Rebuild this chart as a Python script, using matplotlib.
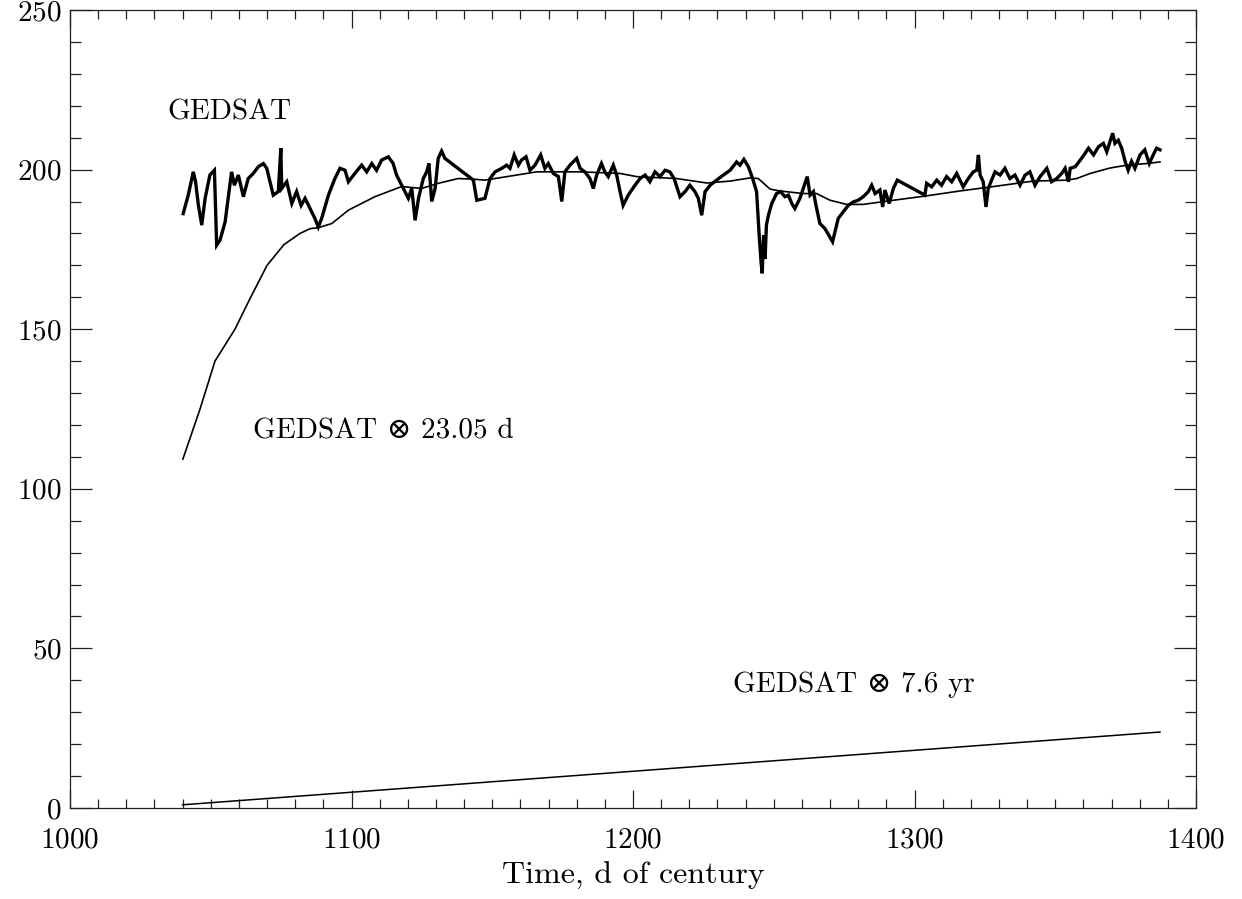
import numpy as np
import matplotlib
matplotlib.use("Agg")
import matplotlib.pyplot as plt
from matplotlib.ticker import MultipleLocator

plt.rcParams['font.family'] = ['cmr10', 'DejaVu Serif']
plt.rcParams['axes.formatter.use_mathtext'] = True

# GEDSAT daily series
t_obs = [1040.2, 1042.0, 1043.8, 1044.6, 1045.6, 1046.8, 1048.0, 1049.7, 1051.3, 1052.1,
         1053.3, 1055.1, 1056.2, 1057.4, 1058.4, 1059.8, 1061.6, 1063.3, 1065.1, 1066.9,
         1068.7, 1069.9, 1072.2, 1074.0, 1074.9, 1075.2, 1077.0, 1078.8, 1080.5, 1082.1,
         1083.5, 1085.3, 1087.0, 1088.2, 1089.4, 1091.8, 1094.1, 1095.9, 1097.7, 1098.9,
         1101.2, 1103.6, 1105.4, 1107.2, 1108.9, 1110.7, 1113.1, 1114.8, 1116.0, 1119.0,
         1120.2, 1121.4, 1122.6, 1123.8, 1125.5, 1126.7, 1127.5, 1128.5, 1129.7, 1130.8,
         1132.0, 1133.2, 1143.3, 1144.5, 1147.4, 1149.2, 1151.0, 1153.4, 1155.1, 1156.3,
         1157.8, 1159.3, 1160.4, 1162.0, 1163.4, 1165.2, 1167.2, 1168.7, 1169.9, 1171.7,
         1173.5, 1174.7, 1175.8, 1177.6, 1180.0, 1181.2, 1182.9, 1184.7, 1185.9, 1187.1,
         1188.8, 1190.0, 1191.2, 1193.0, 1194.2, 1195.4, 1196.5, 1198.3, 1200.7, 1202.5,
         1204.3, 1206.0, 1207.8, 1209.6, 1211.4, 1213.1, 1214.6, 1216.7, 1218.5, 1220.2,
         1222.0, 1223.2, 1224.4, 1225.6, 1227.4, 1229.7, 1232.1, 1234.5, 1236.8, 1238.0,
         1239.4, 1241.0, 1242.5, 1243.9, 1244.9, 1245.5, 1245.9, 1246.4, 1246.9, 1247.4,
         1248.1, 1249.3, 1251.0, 1252.4, 1254.0, 1255.2, 1256.4, 1257.5, 1259.3, 1260.5,
         1261.9, 1262.9, 1264.1, 1265.0, 1266.4, 1268.2, 1270.9, 1272.9, 1274.7, 1276.5,
         1278.3, 1280.0, 1281.8, 1283.6, 1284.8, 1286.0, 1287.7, 1288.7, 1289.5, 1291.0,
         1292.5, 1293.9, 1303.7, 1304.3, 1306.1, 1307.9, 1309.6, 1311.4, 1313.2, 1315.0,
         1317.3, 1319.1, 1320.9, 1322.1, 1322.7, 1323.3, 1324.4, 1325.4, 1326.2, 1328.6,
         1330.4, 1332.1, 1333.9, 1335.7, 1337.5, 1339.3, 1341.0, 1342.8, 1344.6, 1347.0,
         1348.7, 1350.5, 1352.3, 1353.5, 1354.7, 1355.3, 1357.1, 1358.9, 1360.6, 1361.8,
         1363.6, 1365.4, 1367.1, 1368.3, 1370.4, 1371.2, 1372.4, 1373.6, 1374.8, 1375.9,
         1377.1, 1378.3, 1380.1, 1381.8, 1383.4, 1384.8, 1386.0, 1387.2]
v_obs = [186.2, 192.0, 199.3, 196.2, 188.9, 182.6, 191.0, 198.3, 199.8, 176.3,
         177.9, 183.6, 191.0, 199.3, 195.1, 198.3, 191.5, 197.2, 198.8, 200.9,
         201.9, 200.4, 192.0, 193.1, 206.7, 194.1, 196.2, 189.4, 193.1, 188.8,
         191.0, 187.8, 184.7, 182.0, 184.7, 192.0, 197.2, 200.4, 199.8, 196.2,
         198.8, 201.4, 199.3, 201.9, 199.8, 203.0, 204.0, 201.9, 198.3, 193.1,
         191.0, 194.1, 184.1, 191.0, 197.2, 199.3, 201.9, 190.0, 194.1, 203.5,
         205.8, 203.5, 196.7, 190.4, 191.0, 197.2, 199.3, 200.4, 201.4, 200.4,
         204.6, 201.4, 203.0, 204.0, 199.8, 201.4, 204.6, 200.4, 201.9, 198.8,
         197.8, 190.0, 199.3, 201.4, 203.5, 200.4, 199.3, 197.2, 194.1, 198.3,
         201.9, 199.3, 197.8, 201.4, 198.3, 193.1, 188.8, 192.0, 195.1, 197.2,
         198.3, 196.2, 199.3, 197.8, 199.8, 199.3, 197.2, 191.5, 193.1, 195.1,
         193.1, 191.0, 185.7, 193.1, 195.1, 196.7, 198.3, 199.8, 202.4, 201.4,
         203.2, 200.9, 197.2, 193.1, 178.4, 171.0, 167.5, 179.4, 172.0, 182.6,
         185.7, 189.4, 192.5, 193.1, 191.5, 192.0, 189.4, 187.8, 191.0, 194.1,
         197.8, 192.0, 193.1, 188.8, 183.1, 181.5, 177.4, 184.7, 186.8, 188.8,
         189.9, 190.4, 191.5, 193.1, 195.1, 192.5, 193.6, 188.3, 193.6, 189.4,
         194.1, 196.7, 192.0, 195.7, 194.6, 196.7, 195.1, 197.8, 196.2, 198.8,
         194.6, 197.2, 199.3, 199.8, 204.6, 198.3, 196.2, 188.3, 194.1, 199.3,
         198.3, 200.4, 197.2, 198.3, 195.1, 198.3, 199.3, 195.1, 197.8, 200.4,
         196.2, 197.2, 198.8, 200.4, 196.2, 200.4, 200.9, 203.0, 205.1, 206.7,
         204.6, 207.2, 208.2, 205.6, 211.4, 208.2, 209.2, 206.7, 202.6, 199.8,
         202.6, 200.4, 204.6, 206.2, 201.9, 204.6, 206.7, 206.2]

# convolved with 23.05 d kernel
t_23d = [1040.1, 1046.2, 1051.5, 1058.6, 1063.9, 1070.0, 1076.0, 1081.7, 1085.3, 1088.2,
         1093.0, 1098.9, 1108.3, 1117.8, 1124.9, 1130.8, 1137.9, 1143.3, 1147.4, 1165.8,
         1181.2, 1195.4, 1201.3, 1215.5, 1226.2, 1234.5, 1241.6, 1244.5, 1248.7, 1252.2,
         1260.5, 1265.2, 1270.0, 1275.9, 1281.8, 1292.5, 1303.7, 1316.1, 1325.6, 1333.9,
         1342.2, 1354.1, 1357.6, 1362.4, 1369.5, 1375.4, 1382.5, 1387.2]
v_23d = [109.3, 125.0, 140.0, 150.0, 159.5, 170.0, 176.5, 180.0, 181.5, 181.8,
         183.1, 187.3, 191.5, 194.7, 194.1, 195.7, 197.2, 197.0, 196.7, 199.3,
         199.3, 198.8, 197.8, 197.2, 195.8, 196.4, 197.4, 197.2, 193.9, 193.3,
         192.5, 192.5, 190.4, 189.1, 189.1, 190.4, 191.7, 193.3, 194.4, 195.4,
         196.4, 196.7, 197.2, 198.8, 200.5, 201.4, 201.9, 202.4]

# convolved with 7.6 yr kernel
t_7yr = [1040.0, 1387.2]
v_7yr = [1.0, 23.8]

x_ticks = [1000, 1100, 1200, 1300, 1400]
y_ticks = [0, 50, 100, 150, 200, 250]

fig = plt.figure(figsize=(12.42, 8.99), dpi=100)
ax = fig.add_axes([70 / 1242, 1 - 808 / 899, 1126 / 1242, 798 / 899])

ax.plot(t_obs, v_obs, color='black', lw=2.4, solid_joinstyle='miter')
ax.plot(t_23d, v_23d, color='black', lw=1.2)
ax.plot(t_7yr, v_7yr, color='black', lw=1.1)

ax.set_xlim(1000, 1400)
ax.set_ylim(0, 250)
ax.set_xticks(x_ticks)
ax.set_yticks(y_ticks)
ax.xaxis.set_minor_locator(MultipleLocator(10))
ax.yaxis.set_minor_locator(MultipleLocator(10))

ax.tick_params(axis='both', which='both', direction='in', top=True, right=True,
               width=0.9, colors='#222222', labelcolor='black', labelsize=21)
ax.tick_params(axis='y', which='major', length=16, pad=6)
ax.tick_params(axis='y', which='minor', length=8)
ax.tick_params(axis='x', which='major', length=13, pad=14)
ax.tick_params(axis='x', which='minor', length=6.5)
for sp in ax.spines.values():
    sp.set_linewidth(0.9)
    sp.set_color('#222222')

ax.set_xlabel('Time, d of century', fontsize=23, labelpad=6)

ax.text(1034.5, 217.9, 'GEDSAT', fontsize=21, va='center', ha='left')
ax.text(1065.0, 117.9, 'GEDSAT \u2297 23.05 d', fontsize=21, va='center', ha='left')
ax.text(1235.5, 38.6, 'GEDSAT \u2297 7.6 yr', fontsize=21, va='center', ha='left')

fig.savefig('out.png', dpi=100)
